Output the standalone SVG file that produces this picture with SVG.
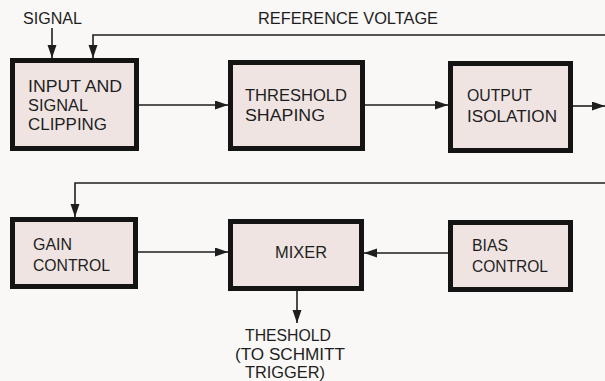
<svg xmlns="http://www.w3.org/2000/svg" width="605" height="381" viewBox="0 0 605 381">
<style>
.box{fill:#efe4e2;stroke:#141414;stroke-width:5}
.lbl{font-family:"Liberation Sans",Arial,sans-serif;font-size:16px;fill:#1e1e1e}
.ln{fill:none;stroke:#1e1e1e;stroke-width:1.6}
</style>
<defs>
<marker id="ah" markerUnits="userSpaceOnUse" markerWidth="14" markerHeight="10" refX="13" refY="4.5" orient="auto">
<path d="M0,0 L13,4.5 L0,9 z" fill="#1e1e1e"/>
</marker>
</defs>
<rect width="605" height="381" fill="#f9f8f6"/>
<g id="connectors">
<line class="ln" x1="52" y1="28" x2="52" y2="58" marker-end="url(#ah)"/>
<polyline class="ln" points="605,35 93,35 93,58" marker-end="url(#ah)"/>
<line class="ln" x1="139" y1="105" x2="228" y2="105" marker-end="url(#ah)"/>
<line class="ln" x1="365" y1="105" x2="448" y2="105" marker-end="url(#ah)"/>
<line class="ln" x1="573" y1="106" x2="605" y2="106" marker-end="url(#ah)"/>
<polyline class="ln" points="605,183 75,183 75,217" marker-end="url(#ah)"/>
<line class="ln" x1="138" y1="252" x2="228" y2="252" marker-end="url(#ah)"/>
<line class="ln" x1="448" y1="253" x2="364" y2="253" marker-end="url(#ah)"/>
<line class="ln" x1="297" y1="291" x2="297" y2="323" marker-end="url(#ah)"/>
</g>
<g id="labels">
<text class="lbl" x="23" y="24" textLength="59" lengthAdjust="spacingAndGlyphs">SIGNAL</text>
<text class="lbl" x="258" y="24" textLength="180" lengthAdjust="spacingAndGlyphs">REFERENCE VOLTAGE</text>
<text class="lbl" x="245" y="341" textLength="86" lengthAdjust="spacingAndGlyphs">THESHOLD</text>
<text class="lbl" x="235" y="359.5" textLength="110" lengthAdjust="spacingAndGlyphs">(TO SCHMITT</text>
<text class="lbl" x="245" y="378" textLength="80" lengthAdjust="spacingAndGlyphs">TRIGGER)</text>
</g>
<g id="input">
<rect class="box" x="12.5" y="60.5" width="124" height="88"/>
<text class="lbl" x="28" y="92" textLength="94" lengthAdjust="spacingAndGlyphs">INPUT AND</text>
<text class="lbl" x="28" y="111" textLength="60" lengthAdjust="spacingAndGlyphs">SIGNAL</text>
<text class="lbl" x="28" y="130" textLength="79" lengthAdjust="spacingAndGlyphs">CLIPPING</text>
</g>
<g id="threshold">
<rect class="box" x="230.5" y="62.5" width="132" height="86"/>
<text class="lbl" x="245" y="101" textLength="102" lengthAdjust="spacingAndGlyphs">THRESHOLD</text>
<text class="lbl" x="245" y="121" textLength="80" lengthAdjust="spacingAndGlyphs">SHAPING</text>
</g>
<g id="output">
<rect class="box" x="450.5" y="63.5" width="120" height="87"/>
<text class="lbl" x="467" y="101" textLength="65" lengthAdjust="spacingAndGlyphs">OUTPUT</text>
<text class="lbl" x="467" y="122" textLength="90" lengthAdjust="spacingAndGlyphs">ISOLATION</text>
</g>
<g id="gain">
<rect class="box" x="12.5" y="219.5" width="123" height="67"/>
<text class="lbl" x="33" y="250" textLength="39" lengthAdjust="spacingAndGlyphs">GAIN</text>
<text class="lbl" x="33" y="271" textLength="77" lengthAdjust="spacingAndGlyphs">CONTROL</text>
</g>
<g id="mixer">
<rect class="box" x="230.5" y="221.5" width="131" height="67"/>
<text class="lbl" x="275" y="258" textLength="52" lengthAdjust="spacingAndGlyphs">MIXER</text>
</g>
<g id="bias">
<rect class="box" x="450.5" y="222.5" width="120" height="67"/>
<text class="lbl" x="472" y="251" textLength="36" lengthAdjust="spacingAndGlyphs">BIAS</text>
<text class="lbl" x="472" y="272" textLength="76" lengthAdjust="spacingAndGlyphs">CONTROL</text>
</g>
</svg>
